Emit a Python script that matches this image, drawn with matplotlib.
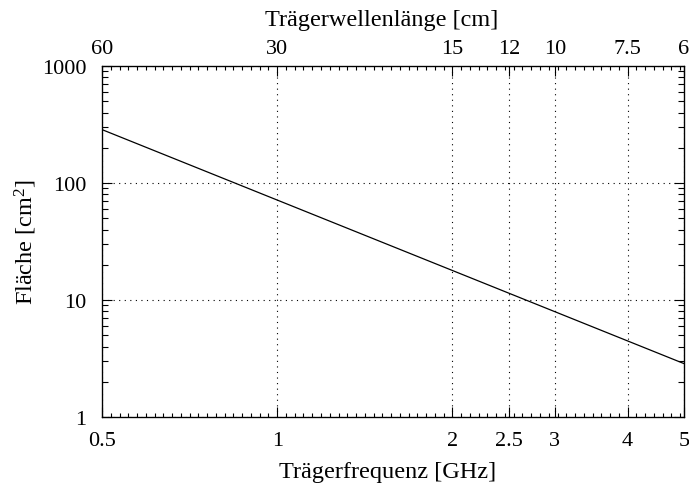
import numpy as np
import matplotlib
matplotlib.use("Agg")
import matplotlib.pyplot as plt
from matplotlib.ticker import FixedLocator, NullFormatter, LogLocator

plt.rcParams['font.family'] = ['Liberation Serif', 'DejaVu Serif']
plt.rcParams['mathtext.fontset'] = 'custom'
plt.rcParams['mathtext.rm'] = 'Liberation Serif'
plt.rcParams['mathtext.it'] = 'Liberation Serif:italic'

# data
freq_ghz = [0.5, 5.0]
area_cm2 = [286.0, 2.86]
x_ticks = [0.5, 1, 2, 2.5, 3, 4, 5]
x_ticklabels = ["0.5", "1", "2", "2.5", "3", "4", "5"]
top_wavelengths_cm = [60, 30, 15, 12, 10, 7.5, 6]
top_ticklabels = ["60", "30", "15", "12", "10", "7.5", "6"]
y_ticks = [1, 10, 100, 1000]
y_ticklabels = ["1", "10", "100", "1000"]

FS = 16
LFS = 17.5

fig = plt.figure(figsize=(6.89, 4.85), dpi=100)
ax = fig.add_axes([102/689, 1-418/485, (684-102)/689, (418-67)/485])
ax.plot(freq_ghz, area_cm2, color='black', lw=0.9)
ax.set_xscale('log')
ax.set_yscale('log')
ax.set_xlim(0.5, 5)
ax.set_ylim(1, 1000)

ax.xaxis.set_major_locator(FixedLocator(x_ticks))
ax.set_xticklabels(x_ticklabels)
ax.yaxis.set_major_locator(FixedLocator(y_ticks))
ax.set_yticklabels(y_ticklabels)
minor_x = [0.5 * 2 ** (k / 20) for k in range(0, 67)]
ax.xaxis.set_minor_locator(FixedLocator(minor_x))
ax.xaxis.set_minor_formatter(NullFormatter())
ax.yaxis.set_minor_locator(LogLocator(base=10, subs=np.arange(2, 10)))
ax.yaxis.set_minor_formatter(NullFormatter())

ax.tick_params(axis='both', which='both', direction='in', top=False, right=True,
               labelsize=FS, colors='black', width=0.8)
ax.tick_params(axis='both', which='major', length=7)
ax.tick_params(axis='x', which='major', pad=10)
ax.tick_params(axis='y', which='major', pad=11)
ax.tick_params(axis='x', which='minor', length=3)
ax.tick_params(axis='y', which='minor', length=4)

ax.grid(True, which='major', color='black', linestyle=(0, (1, 4)), linewidth=0.8)

for s in ax.spines.values():
    s.set_linewidth(0.9)

ax.set_xlabel("Trägerfrequenz [GHz]", fontsize=LFS, labelpad=8)
ax.set_ylabel("Fläche [cm$^2$]", fontsize=LFS, labelpad=2)
ax.xaxis.label.set_x(0.49)

# top axis: wavelength
top = ax.twiny()
top.set_xscale('log')
top.set_xlim(ax.get_xlim())
top_pos = [30.0 / w for w in top_wavelengths_cm]
top.xaxis.set_major_locator(FixedLocator(top_pos))
top.set_xticklabels(top_ticklabels)
top.xaxis.set_minor_locator(FixedLocator(minor_x))
top.xaxis.set_minor_formatter(NullFormatter())
top.tick_params(axis='x', which='both', direction='in', labelsize=FS, width=0.8)
top.tick_params(axis='x', which='major', length=7, pad=6)
top.tick_params(axis='x', which='minor', length=3)
top.set_xlabel("Trägerwellenlänge [cm]", fontsize=LFS, labelpad=10)
top.xaxis.label.set_x(0.481)

fig.savefig("out.png", dpi=100)
